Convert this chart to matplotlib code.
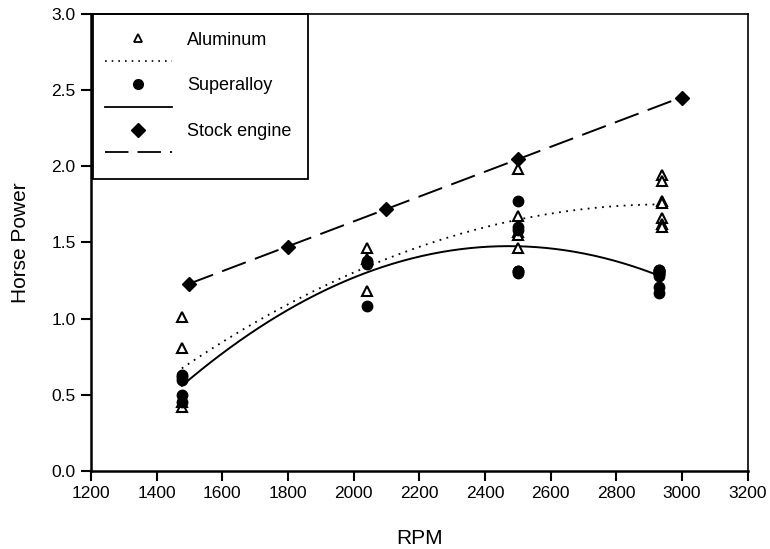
import numpy as np
import matplotlib
matplotlib.use("Agg")
import matplotlib.pyplot as plt
from matplotlib.lines import Line2D
from matplotlib.patches import Rectangle

plt.rcParams['font.family'] = ['Liberation Sans', 'DejaVu Sans']

# Aluminum measurements (RPM, HP)
al_rpm = [1477, 1477, 1477, 1477,
          2040, 2040, 2040,
          2500, 2500, 2500, 2500, 2500,
          2940, 2940, 2940, 2940, 2940, 2940, 2940]
al_hp = [1.01, 0.81, 0.45, 0.42,
         1.46, 1.39, 1.18,
         1.98, 1.67, 1.57, 1.55, 1.46,
         1.94, 1.90, 1.77, 1.76, 1.66, 1.62, 1.60]

# Superalloy measurements
sa_rpm = [1477, 1477, 1477, 1477, 1477,
          2040, 2040, 2040, 2040,
          2500, 2500, 2500, 2500, 2500, 2500,
          2930, 2930, 2930, 2930, 2930, 2930, 2930, 2930, 2930, 2930]
sa_hp = [0.63, 0.62, 0.60, 0.50, 0.45,
         1.38, 1.37, 1.36, 1.08,
         1.77, 1.60, 1.58, 1.31, 1.31, 1.30,
         1.32, 1.32, 1.31, 1.31, 1.30, 1.30, 1.29, 1.28, 1.21, 1.17]

# Stock engine
st_rpm = [1500, 1800, 2100, 2500, 3000]
st_hp = [1.23, 1.47, 1.72, 2.05, 2.45]

x_ticks = [1200, 1400, 1600, 1800, 2000, 2200, 2400, 2600, 2800, 3000, 3200]
y_ticks = [0.0, 0.5, 1.0, 1.5, 2.0, 2.5, 3.0]

fig = plt.figure(figsize=(7.7, 5.49), dpi=100)
ax = fig.add_axes([0.118, 0.142, 0.853, 0.833])

# quadratic fits for the two alloys, linear for stock
al_fit = np.polyfit(al_rpm, al_hp, 2)
sa_fit = np.polyfit(sa_rpm, sa_hp, 2)
st_fit = np.polyfit(st_rpm, st_hp, 1)

xa = np.linspace(min(al_rpm), max(al_rpm), 200)
xs = np.linspace(min(sa_rpm), max(sa_rpm), 200)
xt = np.linspace(min(st_rpm), max(st_rpm), 200)

dotted = (0, (1, 3))
dashed = (0, (13, 5))

ax.plot(xa, np.polyval(al_fit, xa), color='black', lw=1.3, ls=dotted)
ax.plot(xs, np.polyval(sa_fit, xs), color='black', lw=1.4, ls='-')
ax.plot(xt, np.polyval(st_fit, xt), color='black', lw=1.4, ls=dashed)

ax.plot(al_rpm, al_hp, ls='none', marker='^', ms=7, mfc='white', mec='black', mew=1.5)
ax.plot(sa_rpm, sa_hp, ls='none', marker='o', ms=7.5, mfc='black', mec='black')
ax.plot(st_rpm, st_hp, ls='none', marker='D', ms=7, mfc='black', mec='black')

ax.set_xlim(1200, 3200)
ax.set_ylim(0, 3.0)
ax.set_xticks(x_ticks)
ax.set_yticks(y_ticks)
ax.set_yticklabels([f"{v:.1f}" for v in y_ticks])
ax.tick_params(direction='out', length=7, width=1.5, labelsize=12.5, colors='black', pad=4)
ax.tick_params(top=False, right=False)
for s in ['top', 'right']:
    ax.spines[s].set_linewidth(1.2)
for s in ['left', 'bottom']:
    ax.spines[s].set_linewidth(1.8)

ax.set_xlabel('RPM', fontsize=15, labelpad=20)
ax.set_ylabel('Horse Power', fontsize=15, labelpad=15)

handles = [
    Line2D([], [], ls='none', marker='^', ms=6, mfc='white', mec='black', mew=1.3),
    Line2D([], [], color='black', lw=1.2, ls=dotted),
    Line2D([], [], ls='none', marker='o', ms=7, mfc='black', mec='black'),
    Line2D([], [], color='black', lw=1.3, ls='-'),
    Line2D([], [], ls='none', marker='D', ms=7, mfc='black', mec='black'),
    Line2D([], [], color='black', lw=1.3, ls=dashed),
]
labels = ['Aluminum', ' ', 'Superalloy', ' ', 'Stock engine', ' ']
ax.legend(handles, labels, loc='upper left', bbox_to_anchor=(-0.006, 1.0),
          fontsize=13, frameon=False,
          handlelength=3.7, handletextpad=0.85, labelspacing=0.32,
          borderpad=1.0, borderaxespad=0.0)

# legend box drawn as a plain rectangle hugging the axes corner
ax.add_patch(Rectangle((0.003, 0.639), 0.327, 0.361, transform=ax.transAxes,
                       fill=False, edgecolor='black', lw=1.3, zorder=5,
                       clip_on=False))

fig.savefig('out.png', dpi=100)
